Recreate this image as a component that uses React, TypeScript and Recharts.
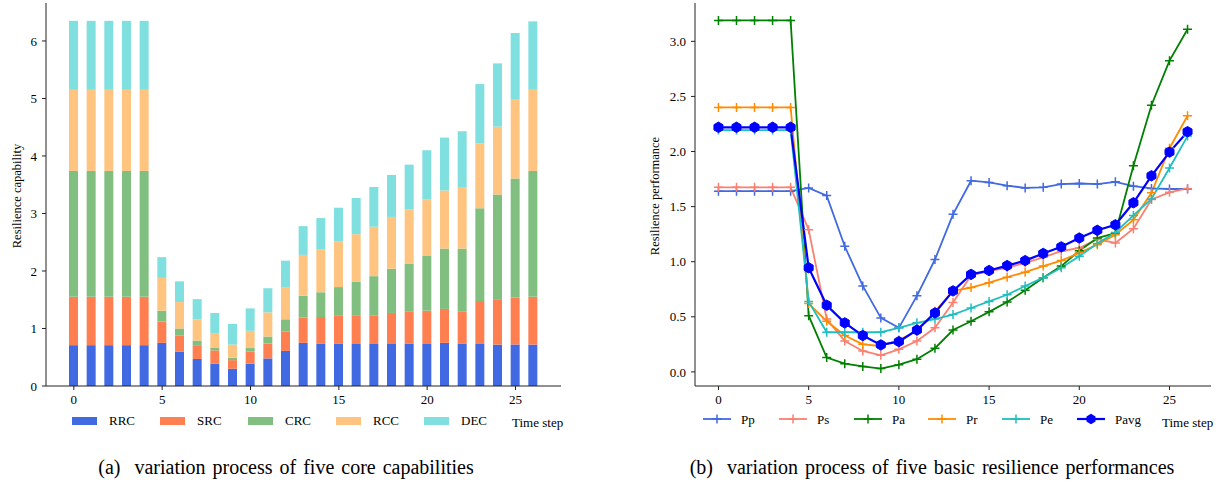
import React from 'react';
import {
  BarChart,
  Bar,
  LineChart,
  Line,
  XAxis,
  YAxis,
} from 'recharts';

// time steps
const steps = [0, 1, 2, 3, 4, 5, 6, 7, 8, 9, 10, 11, 12, 13, 14, 15, 16, 17, 18, 19, 20, 21, 22, 23, 24, 25, 26];

// (a) five core capabilities (stacked)
const rrc = [0.71, 0.71, 0.71, 0.71, 0.71, 0.75, 0.6, 0.47, 0.39, 0.3, 0.39, 0.48, 0.61, 0.75, 0.74, 0.74, 0.73, 0.73, 0.73, 0.74, 0.73, 0.75, 0.74, 0.73, 0.72, 0.72, 0.72];
const src = [0.84, 0.84, 0.84, 0.84, 0.84, 0.37, 0.28, 0.24, 0.23, 0.15, 0.21, 0.26, 0.34, 0.44, 0.46, 0.48, 0.49, 0.5, 0.54, 0.55, 0.58, 0.59, 0.55, 0.75, 0.79, 0.82, 0.83];
const crc = [2.19, 2.19, 2.19, 2.19, 2.19, 0.19, 0.12, 0.08, 0.05, 0.04, 0.06, 0.12, 0.21, 0.38, 0.43, 0.5, 0.59, 0.68, 0.77, 0.84, 0.96, 1.05, 1.1, 1.61, 1.82, 2.07, 2.19];
const rcc = [1.41, 1.41, 1.41, 1.41, 1.41, 0.57, 0.46, 0.37, 0.24, 0.23, 0.3, 0.42, 0.55, 0.71, 0.75, 0.79, 0.83, 0.86, 0.9, 0.94, 0.98, 1.01, 1.07, 1.13, 1.18, 1.38, 1.41];
const dec = [1.2, 1.2, 1.2, 1.2, 1.2, 0.36, 0.36, 0.35, 0.36, 0.36, 0.39, 0.42, 0.47, 0.5, 0.54, 0.59, 0.63, 0.69, 0.73, 0.78, 0.85, 0.92, 0.97, 1.03, 1.1, 1.15, 1.19];

// (b) five basic resilience performances
const pp = [1.64, 1.64, 1.64, 1.64, 1.64, 1.67, 1.6, 1.14, 0.78, 0.49, 0.4, 0.69, 1.02, 1.43, 1.735, 1.72, 1.69, 1.67, 1.675, 1.705, 1.71, 1.705, 1.725, 1.685, 1.665, 1.66, 1.66];
const ps = [1.675, 1.675, 1.675, 1.675, 1.675, 1.29, 0.48, 0.28, 0.19, 0.15, 0.205, 0.28, 0.4, 0.63, 0.875, 0.915, 0.945, 0.99, 1.04, 1.095, 1.125, 1.205, 1.17, 1.3, 1.565, 1.63, 1.665];
const pa = [3.19, 3.19, 3.19, 3.19, 3.19, 0.51, 0.13, 0.075, 0.05, 0.03, 0.065, 0.115, 0.215, 0.38, 0.46, 0.545, 0.635, 0.74, 0.855, 0.96, 1.1, 1.215, 1.26, 1.87, 2.42, 2.825, 3.11];
const pr = [2.4, 2.4, 2.4, 2.4, 2.4, 0.62, 0.46, 0.33, 0.25, 0.235, 0.29, 0.37, 0.55, 0.735, 0.765, 0.81, 0.86, 0.905, 0.96, 1.01, 1.08, 1.155, 1.245, 1.38, 1.625, 2.03, 2.325];
const pe = [2.195, 2.195, 2.195, 2.195, 2.195, 0.64, 0.36, 0.36, 0.36, 0.36, 0.4, 0.445, 0.48, 0.52, 0.58, 0.64, 0.7, 0.78, 0.855, 0.945, 1.05, 1.165, 1.265, 1.42, 1.57, 1.85, 2.14];
const pavg = [2.22, 2.22, 2.22, 2.22, 2.22, 0.945, 0.605, 0.445, 0.33, 0.245, 0.275, 0.38, 0.535, 0.735, 0.885, 0.92, 0.965, 1.01, 1.075, 1.135, 1.215, 1.285, 1.335, 1.535, 1.78, 1.995, 2.18];

const xTicks = [0, 5, 10, 15, 20, 25];
const capTicks = [0, 1, 2, 3, 4, 5, 6];
const perfTicks = [0, 0.5, 1.0, 1.5, 2.0, 2.5, 3.0];

const barSeries = [
  { key: 'RRC', color: '#4169e1' },
  { key: 'SRC', color: '#ff7f50' },
  { key: 'CRC', color: '#80bf80' },
  { key: 'RCC', color: '#ffc580' },
  { key: 'DEC', color: '#80dfdf' },
];

const lineSeries = [
  { key: 'Pp', color: '#4169e1' },
  { key: 'Ps', color: '#fa8072' },
  { key: 'Pa', color: '#008000' },
  { key: 'Pr', color: '#ff8c00' },
  { key: 'Pe', color: '#1fbfbf' },
  { key: 'Pavg', color: '#0000ff' },
];

const capData = steps.map((t, i) => ({
  t,
  RRC: rrc[i],
  SRC: src[i],
  CRC: crc[i],
  RCC: rcc[i],
  DEC: dec[i],
}));

const perfData = steps.map((t, i) => ({
  t,
  Pp: pp[i],
  Ps: ps[i],
  Pa: pa[i],
  Pr: pr[i],
  Pe: pe[i],
  Pavg: pavg[i],
}));

const FONT = '"Liberation Serif", "DejaVu Serif", serif';
const tickStyle = { fill: '#000', fontSize: 13, fontFamily: FONT };

function plusDot(color: string) {
  return (props: any) => {
    const { cx, cy, index } = props;
    if (cx == null || cy == null) return <g key={index} />;
    return (
      <path
        key={index}
        d={`M${cx - 4.5},${cy}h9M${cx},${cy - 4.5}v9`}
        stroke={color}
        strokeWidth={1.5}
        fill="none"
      />
    );
  };
}

function hexPoints(cx: number, cy: number, r: number) {
  const pts: string[] = [];
  for (let k = 0; k < 6; k++) {
    const a = (Math.PI / 3) * k + Math.PI / 6;
    pts.push(`${cx + r * Math.cos(a)},${cy + r * Math.sin(a)}`);
  }
  return pts.join(' ');
}

function hexDot(props: any) {
  const { cx, cy, index } = props;
  if (cx == null || cy == null) return <g key={index} />;
  return <polygon key={index} points={hexPoints(cx, cy, 5.2)} fill="#0000ff" stroke="#0000ff" />;
}

function CapabilityChart() {
  return (
    <div style={{ position: 'absolute', left: 0, top: 0, width: 580, height: 420 }}>
      <BarChart width={580} height={420} data={capData} margin={{ top: 3, right: 19, bottom: 10, left: 0 }}>
        <XAxis
          dataKey="t"
          type="number"
          domain={[-1.575, 27.575]}
          ticks={xTicks}
          allowDataOverflow
          height={24}
          tickSize={4}
          tickMargin={5}
          tick={tickStyle}
          stroke="#222"
        />
        <XAxis xAxisId="top" orientation="top" dataKey="t" type="number" domain={[-1.575, 27.575]} height={0} tick={false} tickLine={false} stroke="#222" />
        <YAxis
          type="number"
          domain={[0, 6.66]}
          ticks={capTicks}
          width={46}
          tickSize={4}
          tickMargin={5}
          tick={tickStyle}
          stroke="#222"
        />
        <YAxis yAxisId="right" orientation="right" width={0} tick={false} tickLine={false} stroke="#222" />
        {barSeries.map((s) => (
          <Bar key={s.key} dataKey={s.key} stackId="a" fill={s.color} barSize={9} isAnimationActive={false} />
        ))}
      </BarChart>
    </div>
  );
}

function PerformanceChart() {
  return (
    <div style={{ position: 'absolute', left: 640, top: 0, width: 582, height: 420 }}>
      <LineChart width={582} height={420} data={perfData} margin={{ top: 3, right: 11, bottom: 10, left: 0 }}>
        <XAxis
          dataKey="t"
          type="number"
          domain={[-1.3, 27.3]}
          ticks={xTicks}
          allowDataOverflow
          height={24}
          tickSize={4}
          tickMargin={5}
          tick={tickStyle}
          stroke="#222"
        />
        <XAxis xAxisId="top" orientation="top" dataKey="t" type="number" domain={[-1.3, 27.3]} height={0} tick={false} tickLine={false} stroke="#222" />
        <YAxis
          type="number"
          domain={[-0.128, 3.348]}
          ticks={perfTicks}
          allowDataOverflow
          tickFormatter={(v: number) => v.toFixed(1)}
          width={55}
          tickSize={4}
          tickMargin={5}
          tick={tickStyle}
          stroke="#222"
        />
        <YAxis yAxisId="right" orientation="right" width={0} tick={false} tickLine={false} stroke="#222" />
        {lineSeries.map((s) => (
          <Line
            key={s.key}
            dataKey={s.key}
            type="linear"
            stroke={s.color}
            strokeWidth={s.key === 'Pavg' ? 2.2 : 1.8}
            dot={s.key === 'Pavg' ? hexDot : plusDot(s.color)}
            activeDot={false}
            isAnimationActive={false}
          />
        ))}
      </LineChart>
    </div>
  );
}

const textBase: React.CSSProperties = {
  position: 'absolute',
  fontFamily: FONT,
  fontSize: 13,
  color: '#000',
  whiteSpace: 'nowrap',
  lineHeight: '14px',
};

export default function App() {
  const barLegendX = [72, 160, 248, 336, 424];
  const lineLegendX = [703, 779, 854, 928, 1002, 1077];
  return (
    <div style={{ position: 'absolute', left: 0, top: 0, width: 1222, height: 485, background: '#fff', fontFamily: FONT }}>
      <CapabilityChart />
      <PerformanceChart />

      {/* y labels */}
      <div style={{ ...textBase, fontSize: 12.5, left: 17, top: 196, transform: 'translate(-50%, -50%) rotate(-90deg)' }}>
        Resilience capability
      </div>
      <div style={{ ...textBase, fontSize: 12.5, left: 655, top: 196, transform: 'translate(-50%, -50%) rotate(-90deg)' }}>
        Resilience performance
      </div>

      {/* legend (a) */}
      {barSeries.map((s, i) => (
        <React.Fragment key={s.key}>
          <div style={{ position: 'absolute', left: barLegendX[i], top: 417, width: 25, height: 8, background: s.color }} />
          <div style={{ ...textBase, left: barLegendX[i] + 37, top: 414 }}>{s.key}</div>
        </React.Fragment>
      ))}
      <div style={{ ...textBase, left: 512, top: 416 }}>Time step</div>

      {/* legend (b) */}
      {lineSeries.map((s, i) => (
        <React.Fragment key={s.key}>
          <svg style={{ position: 'absolute', left: lineLegendX[i], top: 411 }} width={28} height={16}>
            <line x1={0} y1={8} x2={28} y2={8} stroke={s.color} strokeWidth={s.key === 'Pavg' ? 2.2 : 1.8} />
            {s.key === 'Pavg' ? (
              <polygon points={hexPoints(14, 8, 5.2)} fill={s.color} />
            ) : (
              <path d="M9.5,8h9M14,3.5v9" stroke={s.color} strokeWidth={1.5} />
            )}
          </svg>
          <div style={{ ...textBase, left: lineLegendX[i] + 38, top: 413 }}>{s.key}</div>
        </React.Fragment>
      ))}
      <div style={{ ...textBase, left: 1162, top: 416 }}>Time step</div>

      {/* captions */}
      <div style={{ ...textBase, fontSize: 20, lineHeight: '22px', left: 286, top: 456, transform: 'translateX(-50%)', wordSpacing: 2 }}>
        (a)&nbsp; variation process of five core capabilities
      </div>
      <div style={{ ...textBase, fontSize: 20, lineHeight: '22px', left: 932, top: 456, transform: 'translateX(-50%)', wordSpacing: 2 }}>
        (b)&nbsp; variation process of five basic resilience performances
      </div>
    </div>
  );
}
